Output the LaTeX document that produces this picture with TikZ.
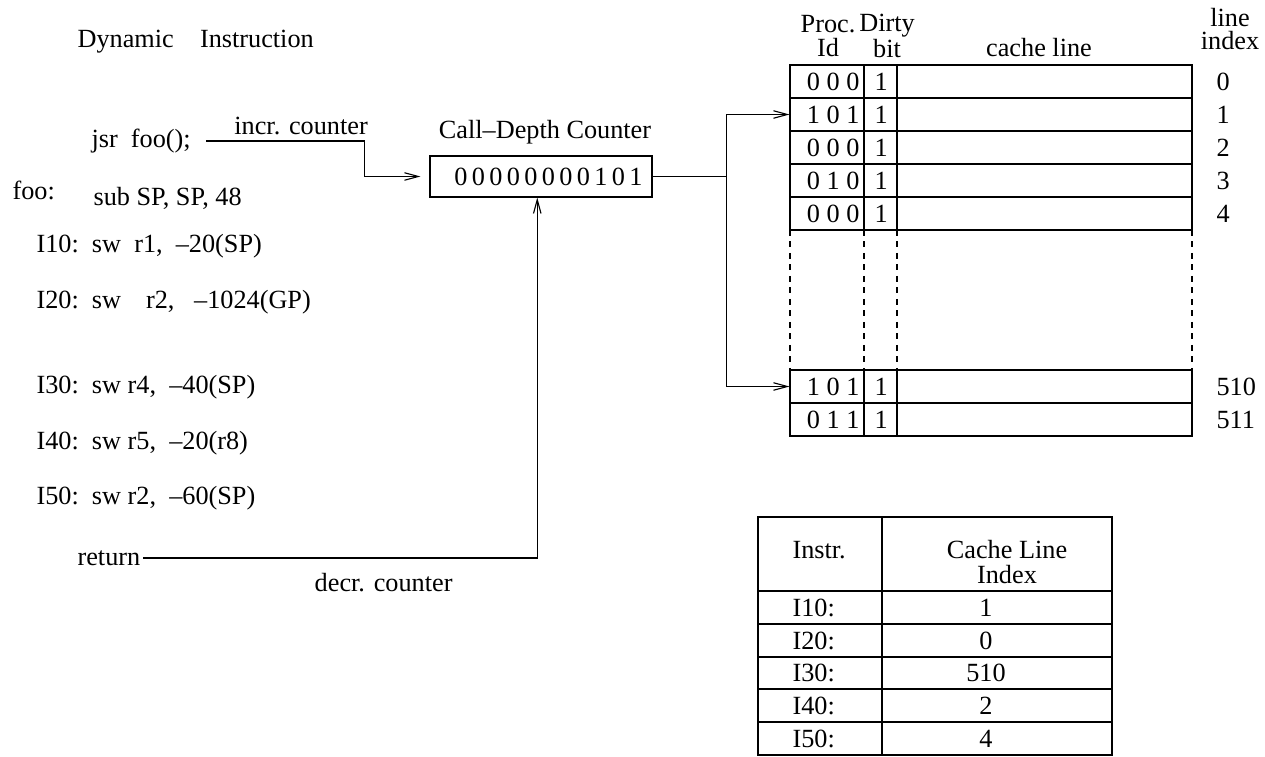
\documentclass[tikz,border=0pt]{standalone}
\usepackage{fontspec}
\setmainfont{Liberation Serif}
\usetikzlibrary{arrows.meta}

\begin{document}
\begin{tikzpicture}[
  x=0.4pt, y=-0.4pt,
  font=\fontsize{10.5}{12.6}\selectfont,
  >={Straight Barb[length=5.5pt,width=3pt]},
  line width=0.45pt,
  txt/.style={anchor=west,inner sep=0pt},
  lbl/.style={inner sep=0pt,align=center},
  hdr/.style={lbl,font=\fontsize{10.5}{9.5}\selectfont},
  cntbox/.style={draw,minimum width=88.8pt,minimum height=16.4pt,inner sep=0pt},
  crow/.style={draw,minimum width=160.8pt,minimum height=13.2pt,inner sep=0pt},
  ihead/.style={draw,minimum width=141.6pt,minimum height=29.6pt,inner sep=0pt},
  irow/.style={draw,minimum width=141.6pt,minimum height=13.2pt,inner sep=0pt},
  skipline/.style={dash pattern=on 2.4pt off 2.2pt},
  link/.style={->},
]
\useasboundingbox (0,0) rectangle (1265,757);

% program listing
\node[txt] (dyn) at (77,42) {Dynamic\quad Instruction};
\node[txt] (jsr) at (91,141) {jsr\enspace foo();};
\node[txt] (foo) at (12,190) {foo:};
\node[txt] (sub) at (93,198) {sub SP, SP, 48};
\node[txt] (i10) at (36,246) {I10:\enspace sw\enspace r1,\enspace --20(SP)};
\node[txt] (i20) at (36,302) {I20:\enspace sw\hskip0.95em r2,\hskip0.75em --1024(GP)};
\node[txt] (i30) at (36,387) {I30:\enspace sw r4,\enspace --40(SP)};
\node[txt] (i40) at (36,443) {I40:\enspace sw r5,\enspace --20(r8)};
\node[txt] (i50) at (36,498) {I50:\enspace sw r2,\enspace --60(SP)};
\node[txt] (ret) at (77,558) {return};

% call-depth counter
\node[lbl] (cntlbl) at (545,132) {Call--Depth Counter};
\node[cntbox] (cnt) at (541,176.5)
  {\hspace{6pt}0\,0\,0\,0\,0\,0\,0\,0\,1\,0\,1};

% cache
\node[hdr] (hproc) at (828,36) {Proc.\\Id};
\node[hdr] (hdirty) at (887,36) {Dirty\\bit};
\node[lbl] (hline) at (1039,48) {cache line};
\node[hdr] (hidx) at (1230,29) {line\\index};
\foreach \y/\pid/\idx in {81.5/0 0 0/0, 114.5/1 0 1/1, 147.5/0 0 0/2, 180.5/0 1 0/3,
    213.5/0 0 0/4, 386.5/1 0 1/510, 419.5/0 1 1/511}{
  \node[crow] (row\idx) at (991,\y) {};
  \node[txt,anchor=east] (pid\idx) at (860,\y) {\pid};
  \node[txt] (dbit\idx) at (874,\y) {1};
  \node[txt] (num\idx) at (1216,\y) {\idx};
}
\foreach \x in {864,897}{
  \draw (\x,65) -- (\x,230);
  \draw (\x,370) -- (\x,436);
}
\foreach \x in {790,864,897,1192}
  \draw[skipline] (\x,230) -- (\x,370);

% instruction -> line table
\node[ihead] (ihead) at (935,554) {};
\node[txt] (hinstr) at (792,550) {Instr.};
\node[lbl,font=\fontsize{10.5}{10}\selectfont] (hcli) at (1007,562) {Cache Line\\Index};
\foreach \y/\ins/\ln in {607.5/I10/1, 640.5/I20/0, 673/I30/510, 705.5/I40/2, 738.5/I50/4}{
  \node[irow] (irow\ins) at (935,\y) {};
  \node[txt] (ins\ins) at (792,\y) {\ins:};
  \node[lbl] (lix\ins) at (986,\y) {\ln};
}
\draw (882,517) -- (882,755);

% edges
\draw[link] ([xshift=6pt]jsr.east) -- node[above=2.4pt,pos=0.6,inner sep=0pt] (incr) {incr. counter}
  ++(158,0) |- ([xshift=-3.6pt]cnt.west);
\draw[link] ([xshift=1pt]ret.east) -| node[below=6pt,pos=0.305,inner sep=0pt] (decr) {decr. counter}
  ([xshift=-1.5pt]cnt.south);
\path (cnt.east) ++(74,0) coordinate (fork);
\draw (cnt.east) -- (fork);
\draw[link] (fork) |- (row1.west);
\draw[link] (fork) |- (row510.west);

\end{tikzpicture}
\end{document}
